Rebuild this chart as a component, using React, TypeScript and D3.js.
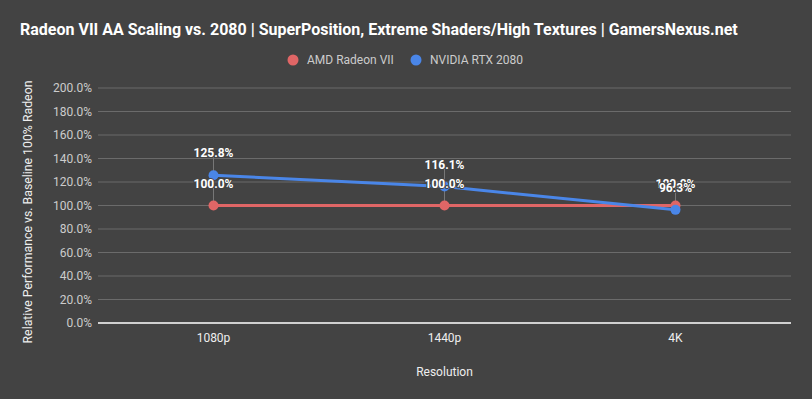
import * as d3 from "d3";

const categories = ["1080p", "1440p", "4K"];
const amdValues = [100.0, 100.0, 100.0];
const nvidiaValues = [125.8, 116.1, 96.3];
const yTickValues = [0, 20, 40, 60, 80, 100, 120, 140, 160, 180, 200];
const seriesNames = ["AMD Radeon VII", "NVIDIA RTX 2080"];

const W = 812;
const H = 399;
const MARGIN = { top: 88, right: 21, bottom: 76, left: 98 };
const BG = "#434343";
const RED = "#e06666";
const BLUE = "#4a86e8";
const FONT = "Roboto, 'Noto Sans', sans-serif";

export default function App() {
  const x = d3.scaleBand<string>().domain(categories).range([MARGIN.left, W - MARGIN.right]);
  const y = d3.scaleLinear().domain([0, 200]).range([H - MARGIN.bottom, MARGIN.top]);
  const cx = (c: string) => (x(c) ?? 0) + x.bandwidth() / 2;

  const line = d3
    .line<number>()
    .x((_, i) => cx(categories[i]))
    .y((d) => y(d));

  const series = [
    { name: seriesNames[0], values: amdValues, color: RED },
    { name: seriesNames[1], values: nvidiaValues, color: BLUE },
  ];

  return (
    <svg width={W} height={H} style={{ display: "block", position: "absolute", left: 0, top: 0 }} fontFamily={FONT}>
      <rect width={W} height={H} fill={BG} />
      <text x={20} y={35} fill="#ffffff" fontSize={16} fontWeight="bold">
        Radeon VII AA Scaling vs. 2080 | SuperPosition, Extreme Shaders/High Textures | GamersNexus.net
      </text>

      {/* legend */}
      <g fontSize={12} fill="#cccccc">
        <circle cx={293} cy={60} r={5.5} fill={RED} />
        <text x={307} y={64}>{seriesNames[0]}</text>
        <circle cx={416} cy={60} r={5.5} fill={BLUE} />
        <text x={430} y={64}>{seriesNames[1]}</text>
      </g>

      {/* grid + y ticks */}
      {yTickValues.map((t) => (
        <g key={t}>
          {t !== 0 && (
            <line x1={MARGIN.left} x2={W - MARGIN.right} y1={y(t)} y2={y(t)} stroke="#6b6b6b" strokeWidth={1} />
          )}
          <text x={92} y={y(t)} dy="0.35em" textAnchor="end" fontSize={12} fill="#cccccc">
            {t.toFixed(1)}%
          </text>
        </g>
      ))}
      <line x1={MARGIN.left} x2={W - MARGIN.right} y1={y(0)} y2={y(0)} stroke="#ffffff" strokeWidth={1.5} />

      {/* x ticks */}
      {categories.map((c) => (
        <text key={c} x={cx(c)} y={342} textAnchor="middle" fontSize={12} fill="#eeeeee">
          {c}
        </text>
      ))}
      <text x={cx(categories[1])} y={376} textAnchor="middle" fontSize={12} fill="#eeeeee">
        Resolution
      </text>
      <text
        transform={`translate(32,212) rotate(-90)`}
        textAnchor="middle"
        fontSize={12.3}
        fill="#eeeeee"
      >
        Relative Performance vs. Baseline 100% Radeon
      </text>

      {/* leader lines */}
      {series.map((s) =>
        s.values.map((v, i) => (
          <line
            key={`ll-${s.name}-${i}`}
            x1={cx(categories[i])}
            x2={cx(categories[i])}
            y1={y(v) - 18}
            y2={y(v)}
            stroke="#777777"
            strokeWidth={1}
          />
        )),
      )}

      {/* lines */}
      {series.map((s) => (
        <path key={`l-${s.name}`} d={line(s.values) ?? undefined} fill="none" stroke={s.color} strokeWidth={3} />
      ))}
      {series.map((s) =>
        s.values.map((v, i) => (
          <circle key={`p-${s.name}-${i}`} cx={cx(categories[i])} cy={y(v)} r={5} fill={s.color} />
        )),
      )}

      {/* data labels (overlap at 4K as in the original) */}
      {series.map((s) =>
        s.values.map((v, i) => (
          <text
            key={`t-${s.name}-${i}`}
            x={cx(categories[i])}
            y={y(v) - 18}
            textAnchor="middle"
            fontSize={12}
            fontWeight="bold"
            fill="#ffffff"
            stroke={BG}
            strokeWidth={2}
            paintOrder="stroke"
          >
            {v.toFixed(1)}%
          </text>
        )),
      )}
    </svg>
  );
}
